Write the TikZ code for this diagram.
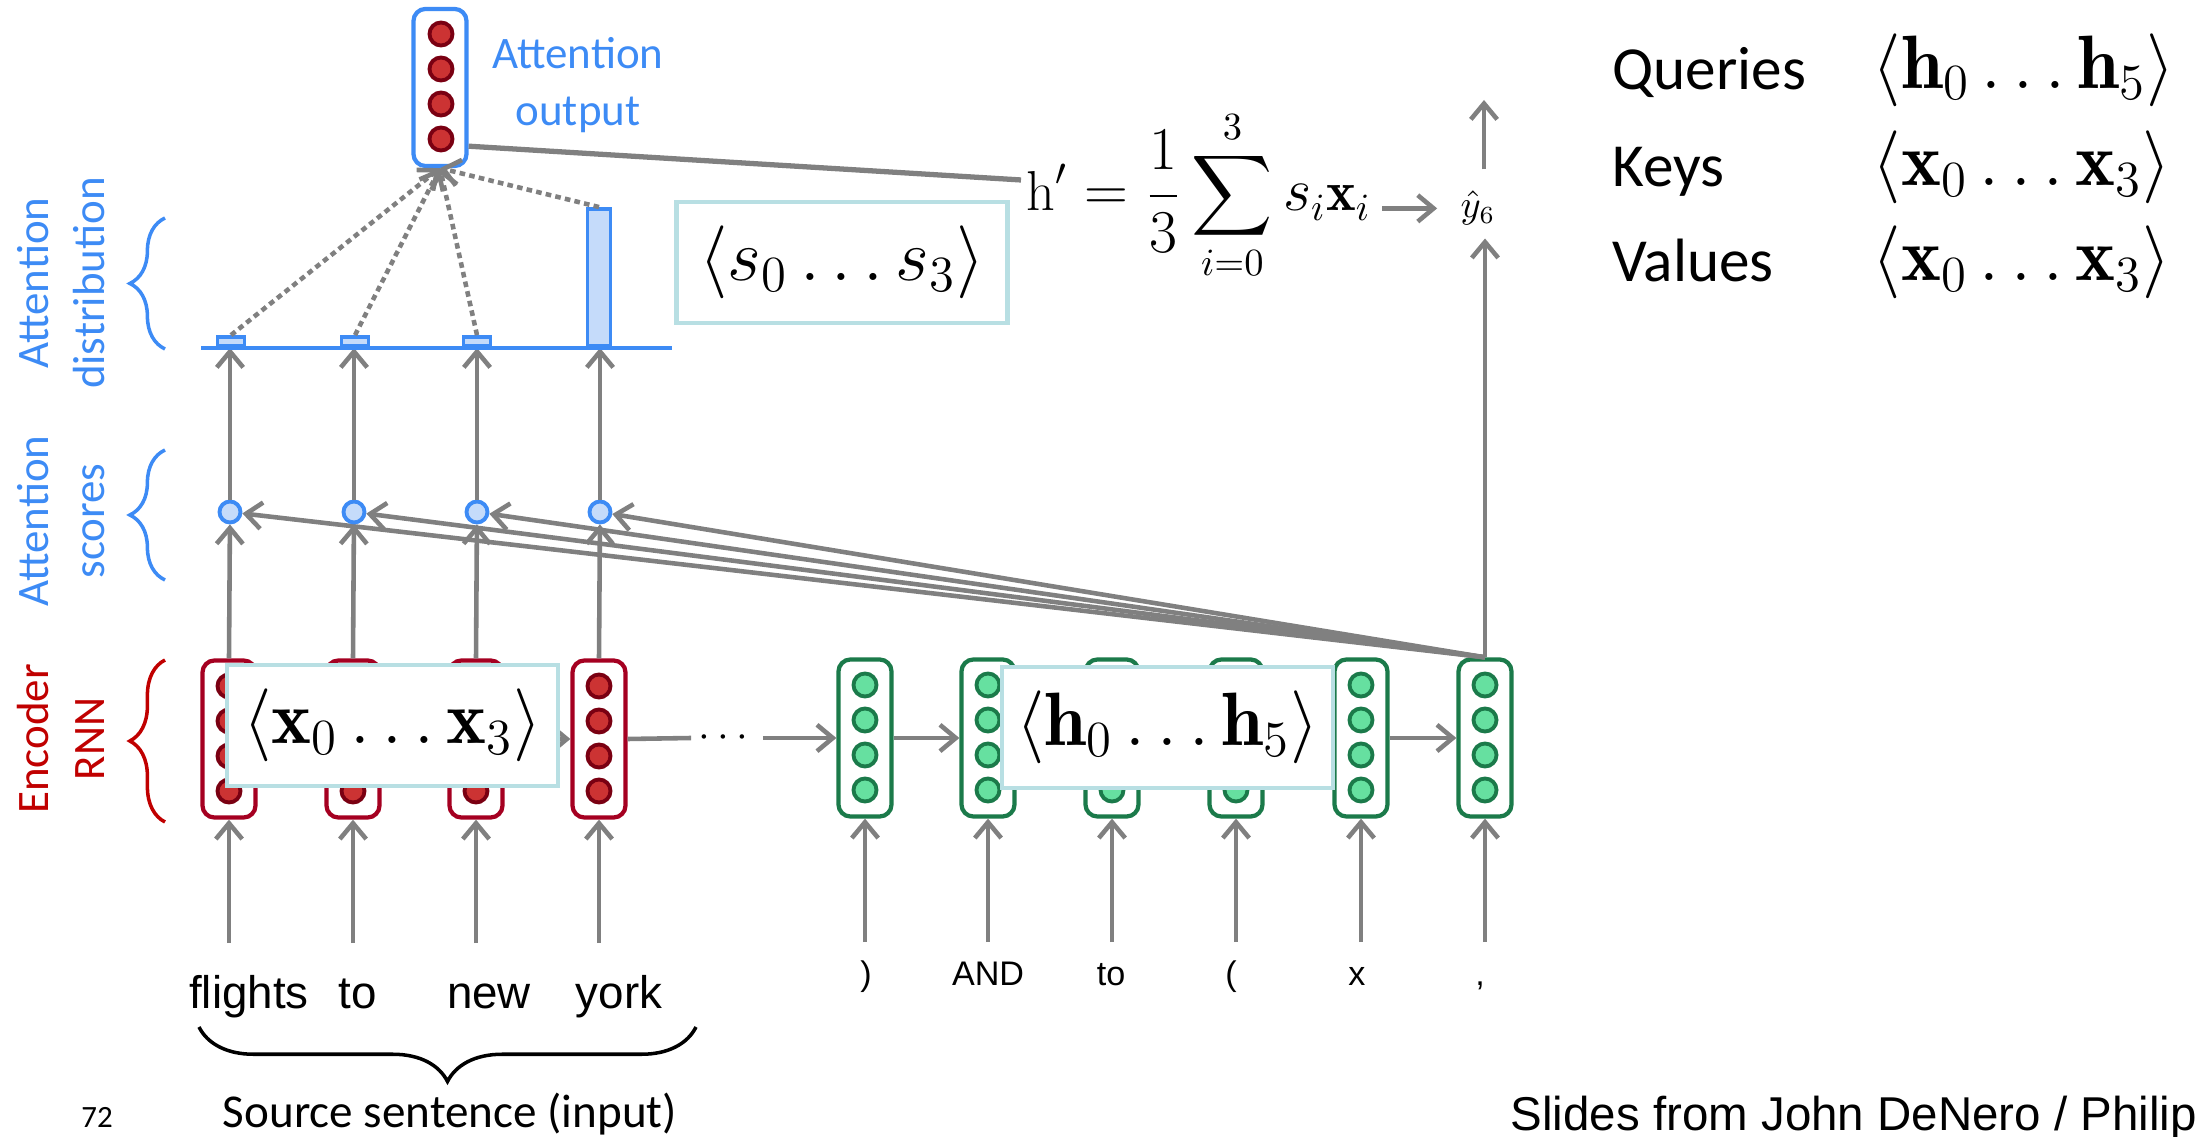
\documentclass[tikz,border=0pt]{standalone}
\usepackage{amsmath,amssymb}
\usepackage{fontspec}
\newfontfamily\calibri{Carlito}
\newfontfamily\arialfont{Liberation Sans}
\usepackage{tikz}
\usetikzlibrary{positioning,arrows.meta,decorations.pathreplacing}
\usepackage{xcolor}
\definecolor{arrowgray}{HTML}{808080}
\definecolor{attblue}{HTML}{3D8BF5}
\definecolor{attfill}{HTML}{C5DBFA}
\definecolor{encred}{HTML}{A50021}
\definecolor{labelred}{HTML}{C00000}
\definecolor{reddark}{HTML}{7A0012}
\definecolor{redfill}{HTML}{CC3333}
\definecolor{grnline}{HTML}{1B7A4A}
\definecolor{grnfill}{HTML}{66E0A0}
\definecolor{tealline}{HTML}{B8DFE3}

\begin{document}
\begin{tikzpicture}[x=0.01cm,y=-0.01cm,
  conn/.style={draw=arrowgray,line width=1.3pt,-{Straight Barb[length=4.5pt,width=7.5pt]}},
  dotconn/.style={conn,dash pattern=on 1.6pt off 1.2pt},
  vecbox/.style={draw,line width=1.2pt,rounded corners=1.2mm,minimum width=5.3mm,minimum height=15.7mm,inner sep=0pt,fill=white},
  unit/.style={circle,line width=1.1pt,minimum size=2.3mm,inner sep=0pt},
  redunit/.style={unit,draw=reddark,fill=redfill},
  grnunit/.style={unit,draw=grnline,fill=grnfill},
  score/.style={circle,draw=attblue,fill=attfill,line width=1.1pt,minimum size=2.1mm,inner sep=0pt},
  bar/.style={draw=attblue,fill=attfill,line width=1.1pt,inner sep=0pt,anchor=south},
  tealbox/.style={draw=tealline,line width=1.3pt,fill=white,minimum width=33.1mm,minimum height=12.1mm,inner sep=0pt,font=\fontsize{21.5}{26}\selectfont},
  sidelabel/.style={rotate=90,align=center,font=\calibri\fontsize{12.8}{16}\selectfont},
  sidebrace/.style={decorate,decoration={brace,amplitude=10pt},line width=1pt},
  bigword/.style={anchor=base,font=\arialfont\fontsize{13}{15}\selectfont},
  smallword/.style={anchor=base,font=\arialfont\fontsize{9.7}{12}\selectfont},
  qkv/.style={anchor=base west,font=\calibri\fontsize{17.4}{20}\selectfont},
  qkvmath/.style={anchor=base west,inner sep=0pt,font=\fontsize{21.5}{26}\selectfont},
]
\useasboundingbox (0,0) rectangle (2203,1137);

% input arrows and encoder / decoder states
\foreach \x [count=\i] in {229,353,476,599} {
  \coordinate (w\i) at (\x,943);
  \node[vecbox,draw=encred] (e\i) at (\x,739) {};
  \foreach \d in {-53,-18,17,52} \node[redunit] at (\x,739+\d) {};
  \draw[conn] (w\i) -- (e\i.south);
}
\foreach \x [count=\i] in {865,988,1112,1236,1361,1485} {
  \coordinate (v\i) at (\x,942);
  \node[vecbox,draw=grnline] (g\i) at (\x,738) {};
  \foreach \d in {-53,-18,17,52} \node[grnunit] at (\x,738+\d) {};
  \draw[conn] (v\i) -- (g\i.south);
}
\draw[conn] (e1) -- (e2);
\draw[conn] (e2) -- (e3);
\draw[conn] (e3) -- (e4);
\node[inner sep=2pt,font=\fontsize{13}{15}\selectfont] (dots) at (727,738) {$\cdots$};
\draw[draw=arrowgray,line width=1.3pt] (e4.east) -- (dots.west);
\draw[conn] (dots.east) -- (g1.west);
\foreach \i/\j in {1/2,2/3,3/4,4/5,5/6} \draw[conn] (g\i) -- (g\j);

% key / query boxes on top
\node[tealbox] (xbox) at (392.5,725.5) {$\langle\mathbf{x}_0\ldots\mathbf{x}_3\rangle$};
\node[tealbox] (hbox) at (1167.5,727.5) {$\langle\mathbf{h}_0\ldots\mathbf{h}_5\rangle$};

% attention scores
\foreach \x [count=\i] in {230,354,477,600} {
  \node[score] (sc\i) at (\x,512) {};
  \coordinate (b\i) at (\x,348);
  \draw[conn] (e\i.north) -- (sc\i);
  \draw[conn] (g6.north) -- (sc\i);
  \draw[conn] (sc\i) -- (b\i);
}

% attention distribution
\node[bar,minimum width=2.7mm,minimum height=0.9mm] (d1) at (231,348) {};
\node[bar,minimum width=2.7mm,minimum height=0.9mm] (d2) at (355,348) {};
\node[bar,minimum width=2.7mm,minimum height=0.9mm] (d3) at (477,348) {};
\node[bar,minimum width=2.3mm,minimum height=13.7mm] (d4) at (599,348) {};
\draw[attblue,line width=1pt] (201,348) -- (672,348);

% attention output
\node[vecbox,draw=attblue] (aout) at (440,87.5) {};
\foreach \d in {-53.5,-18.5,16.5,51.5} \node[redunit] at (441,87.5+\d) {};
\foreach \i in {1,...,4} \draw[dotconn] (d\i.north) -- (aout.south);
\node[align=center,text=attblue,font=\calibri\fontsize{12.8}{16}\selectfont] (aoutlbl) at (578,85) {Attention\\output};

\node[tealbox] (sbox) at (842,262.5) {$\langle s_0\ldots s_3\rangle$};

% weighted sum and output
\node[anchor=base west,inner sep=0pt,font=\fontsize{16}{19}\selectfont] (hf) at (1026,211)
  {$\displaystyle \mathrm{h}' = \frac{1}{3}\sum_{i=0}^{3} s_i\mathbf{x}_i$};
\draw[draw=arrowgray,line width=1.5pt] (aout.-64) -- ([xshift=-0.05cm,yshift=0.31cm]hf.base west);
\node[anchor=base west,inner sep=0pt,font=\fontsize{10.5}{12}\selectfont] (yhat) at (1460,218) {$\hat{y}_6$};
\coordinate (yout) at (1484,100);
\draw[conn,shorten <=3pt,shorten >=6.5pt] (hf.east |- yhat.west) -- (yhat.west);
\draw[conn,shorten >=3.5pt] (g6.north) -- (g6.north |- yhat.south);
\draw[conn,shorten <=6pt] (yout |- yhat.north) -- (yout);

% side labels and braces
\node[sidelabel,text=attblue] (lbldist) at (61,283) {Attention\\distribution};
\node[sidelabel,text=attblue] (lblscore) at (61,521) {Attention\\scores};
\node[sidelabel,text=labelred] (lblenc) at (61,739) {Encoder\\RNN};
\draw[sidebrace,attblue] (165,349) -- (165,218);
\draw[sidebrace,attblue] (165,580) -- (165,450);
\draw[sidebrace,labelred] (165,822) -- (165,660);

% words
\node[bigword] (wflights) at (249,1008) {flights};
\node[bigword] (wto) at (358,1008) {to};
\node[bigword] (wnew) at (489,1008) {new};
\node[bigword] (wyork) at (619,1008) {york};
\node[smallword] (t1) at (866,985) {)};
\node[smallword] (t2) at (988,985) {AND};
\node[smallword] (t3) at (1111,985) {to};
\node[smallword] (t4) at (1231,985) {(};
\node[smallword] (t5) at (1357,985) {x};
\node[smallword] (t6) at (1480,985) {,};
\draw[decorate,decoration={brace,amplitude=15.5pt},line width=1pt] (696,1027) -- (199,1027);
\node[anchor=base,font=\calibri\fontsize{13.4}{15}\selectfont] (src) at (450,1127) {Source sentence (input)};
\node[anchor=base,font=\calibri\fontsize{8.8}{10}\selectfont] (pnum) at (97,1127) {72};
\node[anchor=base west,inner sep=0pt,font=\arialfont\fontsize{13.5}{16}\selectfont] (credit) at (1510,1130) {Slides from John DeNero / Philip};

% queries, keys, values
\node[qkv] (lq) at (1600,90) {Queries};
\node[qkv] (lk) at (1600,187) {Keys};
\node[qkv] (lv) at (1600,282) {Values};
\node[qkvmath] (mq) at (1872,89) {$\langle\mathbf{h}_0\ldots\mathbf{h}_5\rangle$};
\node[qkvmath] (mk) at (1872,186) {$\langle\mathbf{x}_0\ldots\mathbf{x}_3\rangle$};
\node[qkvmath] (mv) at (1872,281) {$\langle\mathbf{x}_0\ldots\mathbf{x}_3\rangle$};
\end{tikzpicture}
\end{document}
